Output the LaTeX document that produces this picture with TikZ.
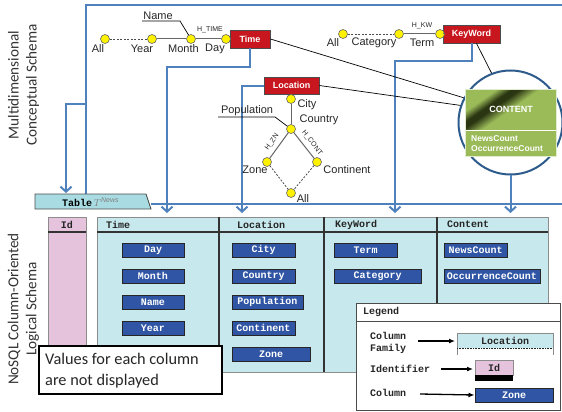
\documentclass[tikz,border=0pt]{standalone}
\usepackage{fontspec}
\setmainfont{Liberation Sans}
\newfontfamily\courf{Liberation Mono}
\newfontfamily\calf{Carlito}
\usetikzlibrary{arrows.meta,calc}
\definecolor{lblue}{HTML}{4F81BD}
\definecolor{dimred}{HTML}{C8161E}
\definecolor{famfill}{HTML}{C7E8EC}
\definecolor{tabfill}{HTML}{A8DCE2}
\definecolor{idpink}{HTML}{E6C3DD}
\definecolor{colblue}{HTML}{2F55A4}
\definecolor{cgreen}{HTML}{9BBB59}
\definecolor{cdark}{HTML}{2A3512}
\definecolor{circblue}{HTML}{2D5B8C}
\pgfdeclarehorizontalshading{gband}{100bp}{color(0bp)=(cgreen); color(30bp)=(cgreen); color(37bp)=(cdark); color(41bp)=(cdark); color(50bp)=(cgreen); color(100bp)=(cgreen)}
\begin{document}
\begin{tikzpicture}[x=1pt,y=-1pt,
  dot/.style={circle, fill=yellow, draw=black!60, line width=0.6pt, inner sep=0pt, minimum size=9pt},
  lbl/.style={font=\fontsize{11}{13}\selectfont, inner sep=0pt, text=black!85},
  smalllbl/.style={font=\fontsize{7}{8}\selectfont, inner sep=0pt, text=black!85},
  dimbox/.style={fill=dimred, draw=black!70, line width=0.8pt, text=white, font=\bfseries\fontsize{9}{10}\selectfont, inner sep=0pt, minimum height=18pt},
  colbox/.style={fill=colblue, draw=black!85, line width=1pt, text=white, font=\courf\bfseries\fontsize{10}{12}\selectfont, inner sep=0pt, minimum height=14pt},
  hdr/.style={font=\courf\bfseries\fontsize{10}{12}\selectfont, inner sep=0pt, anchor=west, text=black!85},
  bl/.style={draw=lblue, line width=2pt},
  barb/.style={-{Straight Barb[length=5pt,width=11pt]}},
  chain/.style={draw=black!60, line width=1pt},
  dchain/.style={draw=black!70, line width=0.8pt, dash pattern=on 2pt off 1.5pt},
  thinln/.style={draw=black, line width=0.7pt},
  legarrow/.style={draw=black, line width=1.3pt, -{Latex[length=6pt,width=5pt]}},
  sidelbl/.style={rotate=90, align=center, font=\calf\fontsize{15.2}{18}\selectfont, text=black!80, inner sep=0pt}
]
\useasboundingbox (0,0) rectangle (562,412);

% ---------- side labels
\node[sidelbl] (mdcs) at (23.5,85) {Multidimensional\\Conceptual Schema};
\node[sidelbl] (nosql) at (23.5,309) {NoSQL Column-Oriented\\Logical Schema};

% ---------- coordinates for blue frame and arrow ends
\coordinate (frTL) at (86,5);
\coordinate (frTR) at (562,5);
\coordinate (frBL) at (86,194);
\coordinate (frBranch) at (86,104);
\coordinate (frHL) at (151,204);
\coordinate (frHR) at (562,204);
\coordinate (aTab) at (66,193);
\coordinate (aTime) at (167,213);
\coordinate (aLoc) at (242,213);
\coordinate (aKW) at (395,213);
\coordinate (aCont) at (510.5,213);

% ---------- dimension boxes
\node[dimbox, minimum width=40pt] (tBox) at (250,39) {Time};
\node[dimbox, minimum width=57pt] (kBox) at (471.5,34) {KeyWord};
\node[dimbox, minimum width=55pt, minimum height=17pt] (lBox) at (291.5,85.5) {Location};

% ---------- circle & content (positions)
\node[circle, minimum size=104pt, inner sep=0pt] (circ) at (510.5,122.5) {};

% ---------- blue lines
\draw[bl] (frBL) -- (frTL) -- (frTR);
\draw[bl] (frHL) -- (frHR);
\draw[bl, barb] (frBranch) -| (aTab);
\draw[bl, barb] (tBox.south) -- ++(0,19) -| (aTime);
\draw[bl, barb] (lBox.west) -| (aLoc);
\draw[bl, barb] (kBox.south) -- ++(0,18) -| (aKW);

% ---------- Time hierarchy
\node[dot] (tAll) at (105,39) {};
\node[dot] (tYear) at (152,39) {};
\node[dot] (tMonth) at (191,39) {};
\node[dot] (tDay) at (226,39) {};
\draw[dchain] (tAll) -- (tYear);
\draw[chain] (tYear) -- (tMonth);
\draw[chain] (tMonth) -- (tDay);
\draw[chain] (tDay) -- (tBox);
\node[lbl] (ltAll) at (98,49) {All};
\node[lbl] (ltYear) at (142,49) {Year};
\node[lbl] (ltMonth) at (183.5,49) {Month};
\node[lbl] (ltDay) at (215,49) {Day};
\node[smalllbl] (htime) at (210,30) {H\_TIME};
\node[lbl] (lName) at (158,15.5) {Name};
\coordinate (nameA) at (142,21);
\coordinate (nameB) at (180,21);
\draw[thinln] (nameA) -- (nameB) -- (tMonth);

% ---------- KeyWord hierarchy
\node[dot] (kAll) at (343,34) {};
\node[dot] (kCat) at (399,34) {};
\node[dot] (kTerm) at (440,34) {};
\draw[dchain] (kAll) -- (kCat);
\draw[chain] (kCat) -- (kTerm);
\draw[chain] (kTerm) -- (kBox);
\node[lbl] (lkAll) at (333,43) {All};
\node[lbl] (lkCat) at (374,43) {Category};
\node[lbl] (lkTerm) at (422,43) {Term};
\node[smalllbl] (hkw) at (422,26) {H\_KW};

% ---------- Location hierarchy
\node[dot] (lCity) at (291,99) {};
\node[dot] (lCountry) at (291,129) {};
\node[dot] (lZone) at (267,162) {};
\node[dot] (lCont) at (317,162) {};
\node[dot] (lAll) at (291,193) {};
\draw[chain] (lCity) -- (lCountry);
\draw[chain] (lCountry) -- (lZone);
\draw[chain] (lCountry) -- (lCont);
\draw[dchain] (lZone) -- (lAll);
\draw[dchain] (lCont) -- (lAll);
\node[lbl] (llCity) at (307,105) {City};
\node[lbl] (llCountry) at (319,120) {Country};
\node[lbl] (llPop) at (247,111) {Population};
\node[lbl] (llZone) at (255,170) {Zone};
\node[lbl] (llCont) at (347,170) {Continent};
\node[lbl] (llAll) at (303,199) {All};
\node[smalllbl, rotate=54] (hzn) at (272,142) {H\_ZN};
\node[smalllbl, rotate=-52] (hcont) at (312,143) {H\_CONT};
\coordinate (popA) at (218,117);
\coordinate (popB) at (275,117);
\draw[thinln] (popA) -- (popB) -- (lCountry);

% ---------- links to fact
\node[fill=cgreen, minimum width=91pt, minimum height=67pt, inner sep=0pt] (content) at (510.5,122.5) {};
\draw[thinln] (tBox.east) -- (circ.152);
\draw[thinln] (lBox.east) -- (circ.161);
\draw[thinln] ($(kBox.south)+(5,0)$) -- ($(content.north)+(-11,0)$);

% circle and content drawn on top
\draw[draw=circblue, line width=2pt, fill=white] (circ.center) circle (52pt);
\fill[cgreen] (465,89) rectangle (556,156);
\shade[shading=gband, shading angle=-55] (465,89) rectangle (556,130);
\draw[white, line width=1pt] (465,130) -- (556,130);
\draw[white!70!cgreen, line width=0.5pt] (465,89) rectangle (556,156);
\node[text=white, font=\bfseries\fontsize{9}{10}\selectfont, inner sep=0pt] (ctitle) at (511,109) {CONTENT};
\node[text=white, font=\bfseries\fontsize{8.5}{10}\selectfont, inner sep=0pt, anchor=west, align=left] (cmeas) at (471,144) {NewsCount\\OccurrenceCount};
\draw[bl, barb] (circ.south) -- (aCont);

% ---------- Table tab
\draw[fill=tabfill, draw=black!70, line width=0.8pt] (35,194) -- (146,194) -- (151,209) -- (35,209) -- cycle;
\node[anchor=west, inner sep=0pt] (tabLbl) at (62,202) {{\courf\bfseries\fontsize{10}{12}\selectfont Table}\,\textcolor{black!50}{$T^{\mathit{News}}$}};

% ---------- Id column
\fill[idpink] (48,217) rectangle (86,372);
\draw[black!45, line width=1pt] (48,217) rectangle (86,372);
\draw[black!80, line width=1.5pt] (48,232) -- (86,232);
\node[hdr, anchor=center] (hId) at (67,224.5) {Id};

% ---------- column families
\fill[famfill] (97,217) rectangle (548,372);
\draw[black!45, line width=1pt] (97,217) rectangle (548,372);
\draw[black!80, line width=1.5pt] (97,232) -- (548,232);
\foreach \xx in {219,324,437} \draw[black!80, line width=1.5pt] (\xx,217) -- (\xx,372);
\node[hdr] (hTime) at (106,224.5) {Time};
\node[hdr] (hLoc) at (237,224.5) {Location};
\node[hdr] (hKW) at (335,224.5) {KeyWord};
\node[hdr] (hCont) at (447,224.5) {Content};

% columns
\node[colbox, minimum width=62pt] (cDay) at (153,250) {Day};
\node[colbox, minimum width=62pt] (cMonth) at (153,276) {Month};
\node[colbox, minimum width=62pt] (cName) at (153,302) {Name};
\node[colbox, minimum width=62pt] (cYear) at (153,328) {Year};
\node[colbox, minimum width=63pt] (cCity) at (263.5,250) {City};
\node[colbox, minimum width=63pt] (cCountry) at (263.5,276) {Country};
\node[colbox, minimum width=71pt] (cPop) at (267.5,302) {Population};
\node[colbox, minimum width=63pt] (cContinent) at (263.5,328) {Continent};
\node[colbox, minimum width=78pt] (cZone) at (271,354) {Zone};
\node[colbox, minimum width=63pt] (cTerm) at (365.5,250) {Term};
\node[colbox, minimum width=87pt] (cCat) at (377.5,276) {Category};
\node[colbox, minimum width=63pt] (cNews) at (475.5,250) {NewsCount};
\node[colbox, minimum width=96pt] (cOcc) at (492,276) {OccurrenceCount};

% ---------- values note
\draw[fill=white, draw=black, line width=1.5pt] (39,346) rectangle (222,394);
\node[anchor=west, align=left, font=\calf\fontsize{16.3}{21}\selectfont, inner sep=0pt, text=black!85] (valTxt) at (45,370.5) {Values for each column\\are not displayed};

% ---------- legend
\draw[fill=white, draw=black!70, line width=1pt] (356,303) rectangle (560,410);
\draw[black!70, line width=1pt] (356,321) -- (560,321);
\node[hdr] (legT) at (363,312) {Legend};
\node[hdr, align=left, font=\courf\bfseries\fontsize{10}{12}\selectfont] (legCF) at (370,343) {Column\\Family};
\node[hdr] (legId) at (370,369) {Identifier};
\node[hdr] (legCol) at (370,393) {Column};
% samples
\fill[famfill] (457,333) rectangle (553,348);
\draw[black!45, line width=1pt] (457,355) -- (457,333) -- (553,333) -- (553,355);
\draw[black!85, line width=1pt, dash pattern=on 1pt off 0.6pt] (457,348) -- (553,348);
\node[hdr, anchor=center] (sLoc) at (505,340.5) {Location};
\fill[idpink] (475,360) rectangle (513,375);
\draw[black!45, line width=1pt] (475,360) rectangle (513,375);
\fill[black] (475,375) rectangle (513,381);
\node[hdr, anchor=center] (sId) at (494,367.5) {Id};
\node[colbox, minimum width=78pt] (sZone) at (514,395) {Zone};
\coordinate (laA) at (418,341);
\coordinate (laB) at (455,341);
\coordinate (lbA) at (441,369);
\coordinate (lbB) at (473,369);
\coordinate (lcA) at (420,394);
\draw[legarrow] (laA) -- (laB);
\draw[legarrow] (lbA) -- (lbB);
\draw[legarrow] (lcA) -- (sZone.west);
\end{tikzpicture}
\end{document}
